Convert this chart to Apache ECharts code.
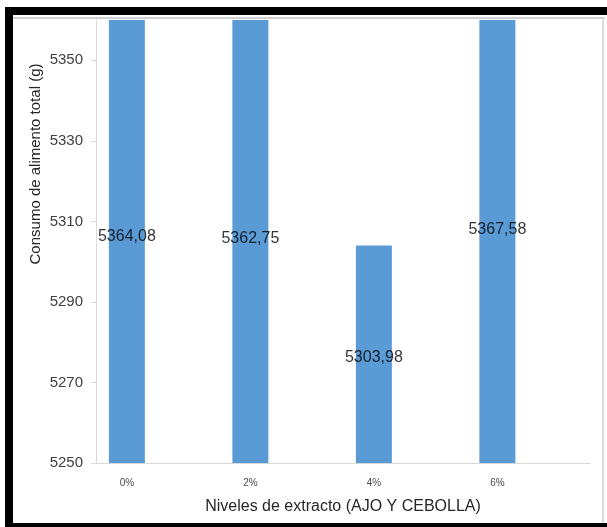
<!DOCTYPE html>
<html>
<head>
<meta charset="utf-8">
<script src="https://cdn.jsdelivr.net/npm/echarts@6/dist/echarts.min.js"></script>
<style>
  html, body { margin: 0; padding: 0; background: #ffffff; }
  #chart { width: 607px; height: 527px; }
</style>
</head>
<body>
<div id="chart"></div>
<script>
// Extract levels; the blank slots are spacer categories between the bars
const categories = ['0%', '', '2%', '', '4%', '', '6%', ''];
// Total feed consumption (g) per level
const consumo = [5364.08, null, 5362.75, null, 5303.98, null, 5367.58, null];
// Value axis range and labelled ticks
const yMin = 5250;
const yMax = 5360;
const yTicks = [5250, 5270, 5290, 5310, 5330, 5350];

const fmt = v => v.toFixed(2).replace('.', ',');

// Value labels sit at the middle of each full bar (between the axis floor and the value)
const labelPoints = consumo.map((v, i) => v == null ? null : [i, (v + yMin) / 2, v]);

const chart = echarts.init(document.getElementById('chart'), null, { renderer: 'canvas' });

chart.setOption({
  animation: false,
  backgroundColor: '#ffffff',
  grid: { left: 96, right: 17, top: 20, bottom: 64, containLabel: false },
  xAxis: {
    type: 'category',
    data: categories,
    axisLine: { show: true, lineStyle: { color: '#d9d9d9', width: 1 } },
    axisTick: { show: false },
    axisLabel: {
      interval: 0,
      margin: 15,
      fontFamily: 'Liberation Sans',
      fontSize: 10,
      color: '#4a4a4a'
    },
    name: 'Niveles de extracto (AJO Y CEBOLLA)',
    nameLocation: 'middle',
    nameGap: 36,
    nameTextStyle: { fontFamily: 'Liberation Sans', fontSize: 16, color: '#262626' }
  },
  yAxis: {
    type: 'value',
    min: yMin,
    max: yMax,
    interval: 20,
    axisLine: { show: true, lineStyle: { color: '#d9d9d9', width: 1 } },
    axisTick: { show: true, length: 5, lineStyle: { color: '#d9d9d9' }, customValues: yTicks },
    axisLabel: {
      margin: 13,
      fontFamily: 'Liberation Sans',
      fontSize: 15,
      color: '#404040',
      customValues: yTicks,
      formatter: v => String(v)
    },
    splitLine: { show: false }
  },
  series: [
    {
      type: 'bar',
      data: consumo,
      barWidth: 36,
      clip: true,
      itemStyle: { color: '#5b9bd5' },
      z: 2
    },
    {
      type: 'scatter',
      data: labelPoints,
      symbolSize: 0,
      clip: false,
      silent: true,
      z: 3,
      label: {
        show: true,
        position: 'inside',
        offset: [0, 3],
        formatter: p => fmt(p.value[2]),
        fontFamily: 'Liberation Sans',
        fontSize: 16,
        color: '#000000'
      }
    }
  ],
  graphic: [
    {
      type: 'text',
      x: 36,
      y: 164,
      rotation: Math.PI / 2,
      style: {
        text: 'Consumo de alimento total (g)',
        font: '15px "Liberation Sans"',
        fill: '#262626',
        align: 'center',
        verticalAlign: 'middle'
      }
    },
    // chart frame
    { type: 'rect', shape: { x: 13, y: 17, width: 592, height: 2 }, style: { fill: '#d0d0d0' }, z: 10 },
    { type: 'rect', shape: { x: 602, y: 17, width: 2, height: 510 }, style: { fill: '#dcdcdc' }, z: 10 },
    { type: 'rect', shape: { x: 5, y: 7, width: 602, height: 8 }, style: { fill: '#000000' }, z: 11 },
    { type: 'rect', shape: { x: 5, y: 7, width: 8, height: 520 }, style: { fill: '#000000' }, z: 11 },
    { type: 'rect', shape: { x: 5, y: 523, width: 602, height: 4 }, style: { fill: '#000000' }, z: 11 }
  ]
});
</script>
</body>
</html>
